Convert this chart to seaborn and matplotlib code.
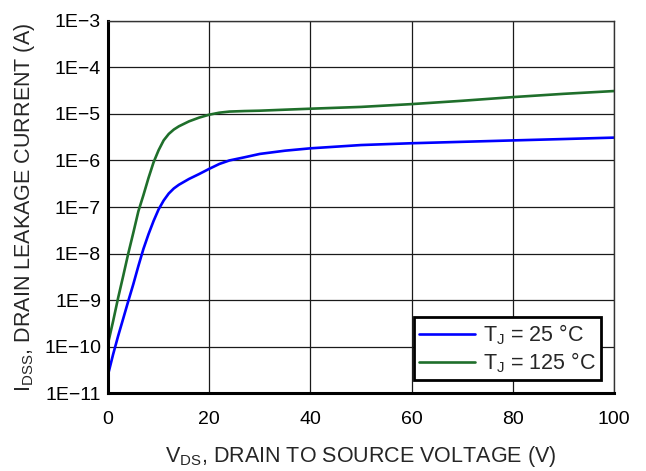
import numpy as np
import pandas as pd
import matplotlib
matplotlib.use("Agg")
import matplotlib.pyplot as plt
import seaborn as sns

# Drain-source voltage (V)
vds = [0, 1, 2, 3, 4, 5, 6, 7, 8, 9, 10, 11, 12, 13, 14, 16, 18, 20,
       22, 24, 27, 30, 35, 40, 50, 60, 70, 80, 90, 100]

# Drain leakage current (A), TJ = 25 °C
idss_25 = [2.5e-11, 6.8e-11, 1.7e-10, 4.0e-10, 9.5e-10, 2.2e-9, 5.4e-9,
           1.26e-8, 2.6e-8, 5.0e-8, 8.9e-8, 1.38e-7, 1.95e-7, 2.5e-7, 3.0e-7,
           4.0e-7, 5.1e-7, 6.6e-7, 8.4e-7, 1.0e-6, 1.17e-6, 1.38e-6,
           1.62e-6, 1.82e-6, 2.14e-6, 2.34e-6, 2.51e-6, 2.69e-6, 2.88e-6,
           3.09e-6]

# Drain leakage current (A), TJ = 125 °C
idss_125 = [1.17e-10, 3.5e-10, 1.12e-9, 3.3e-9, 1.0e-8, 2.8e-8, 8.1e-8,
            1.8e-7, 4.2e-7, 9.1e-7, 1.66e-6, 2.7e-6, 3.7e-6, 4.6e-6, 5.4e-6,
            6.9e-6, 8.3e-6, 9.6e-6, 1.06e-5, 1.12e-5, 1.15e-5, 1.17e-5,
            1.23e-5, 1.29e-5, 1.41e-5, 1.62e-5, 1.91e-5, 2.29e-5, 2.69e-5,
            3.09e-5]

series_labels = [r"T$_{\mathrm{J}}$ = 25 °C", r"T$_{\mathrm{J}}$ = 125 °C"]
series_colors = ["#0000ff", "#1f6f2b"]

x_ticks = [0, 20, 40, 60, 80, 100]
y_exponents = [-11, -10, -9, -8, -7, -6, -5, -4, -3]
y_tick_labels = [f"1E\u2212{-e}" for e in y_exponents]

sns.set_theme(style="white")
plt.rcParams["font.family"] = ["Liberation Sans", "DejaVu Sans"]
plt.rcParams["mathtext.fontset"] = "custom"
plt.rcParams["mathtext.rm"] = "Liberation Sans"
plt.rcParams["mathtext.it"] = "Liberation Sans:italic"

df = pd.DataFrame({
    "vds": vds * 2,
    "idss": idss_25 + idss_125,
    "series": [series_labels[0]] * len(vds) + [series_labels[1]] * len(vds),
})

fig = plt.figure(figsize=(6.46, 4.71), dpi=100)
ax = fig.add_axes([0.1672, 0.165, 0.7833, 0.791])

sns.lineplot(data=df, x="vds", y="idss", hue="series",
             palette=dict(zip(series_labels, series_colors)),
             linewidth=1.9, ax=ax, legend=True)

ax.set_yscale("log")
ax.set_xlim(0, 100)
ax.set_ylim(1e-11, 1e-3)
ax.set_xticks(x_ticks)
ax.set_xticklabels([str(t) for t in x_ticks], fontsize=14)
ax.set_yticks([10.0 ** e for e in y_exponents])
ax.set_yticklabels(y_tick_labels, fontsize=14)
ax.yaxis.set_minor_locator(matplotlib.ticker.NullLocator())
ax.tick_params(axis="both", length=0, colors="black")
ax.tick_params(axis="y", pad=5)
ax.tick_params(axis="x", pad=13)

ax.grid(True, which="major", color="#1a1a1a", linewidth=0.9)
ax.set_axisbelow(True)

for side in ("left", "bottom"):
    ax.spines[side].set_linewidth(2.2)
    ax.spines[side].set_color("black")
for side in ("top", "right"):
    ax.spines[side].set_linewidth(1.0)
    ax.spines[side].set_color("#333333")

ax.set_xlabel(r"V$_{\mathrm{DS}}$, DRAIN TO SOURCE VOLTAGE (V)", fontsize=15.5,
              labelpad=11)
ax.set_ylabel(r"I$_{\mathrm{DSS}}$, DRAIN LEAKAGE CURRENT (A)", fontsize=15.5,
              labelpad=5)

leg = ax.legend(loc="lower right", fontsize=15.5, frameon=True, fancybox=False,
                edgecolor="black", framealpha=1.0, borderpad=0.25,
                handlelength=2.6, handletextpad=0.35, labelspacing=0.15,
                borderaxespad=0.0, bbox_to_anchor=(0.975, 0.035))
leg.get_frame().set_linewidth(2.0)
for line in leg.get_lines():
    line.set_linewidth(1.9)

fig.savefig("out.png", dpi=100)
